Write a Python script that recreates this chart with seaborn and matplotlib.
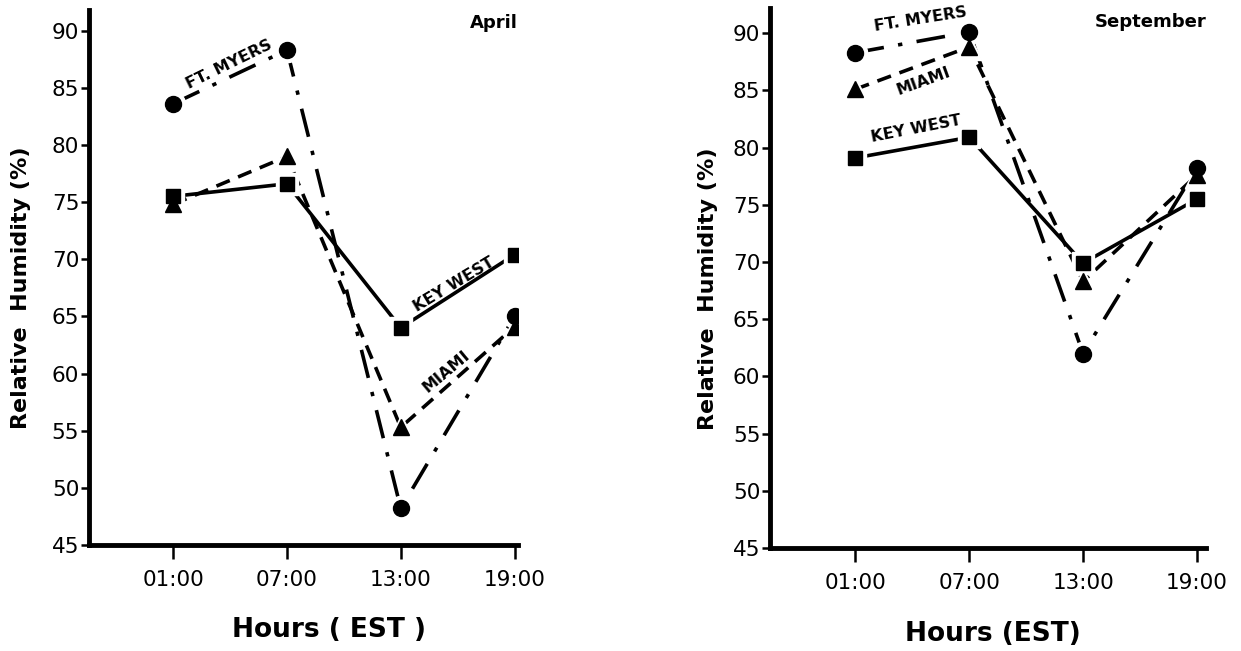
import pandas as pd
import seaborn as sns
import matplotlib.pyplot as plt

# hours of observation and relative humidity readings (%)
hours = ['01:00', '07:00', '13:00', '19:00']

april_ft_myers = [83.6, 88.3, 48.2, 65.0]
april_miami = [74.8, 79.0, 55.3, 64.1]
april_key_west = [75.5, 76.6, 64.0, 70.4]

sept_ft_myers = [88.3, 90.1, 62.0, 78.2]
sept_miami = [85.1, 88.8, 68.3, 77.6]
sept_key_west = [79.1, 80.9, 69.9, 75.5]

cities = ['FT. MYERS', 'MIAMI', 'KEY WEST']

sns.set_style('ticks')
plt.rcParams['font.family'] = ['DejaVu Sans']
plt.rcParams['text.color'] = 'black'
plt.rcParams['axes.labelcolor'] = 'black'

styles = {
    'FT. MYERS': dict(marker='o', ms=11.5, dashes=(8, 4, 1.2, 4)),
    'MIAMI': dict(marker='^', ms=12, dashes=(4, 2.5)),
    'KEY WEST': dict(marker='s', ms=10.5, dashes=()),
}


def make_frame(ft, mi, kw):
    rows = []
    for city, vals in zip(cities, [ft, mi, kw]):
        for i, (h, v) in enumerate(zip(hours, vals)):
            rows.append({'city': city, 'hour': h, 'pos': i, 'rh': v})
    return pd.DataFrame(rows)


def draw_panel(ax, df, title, labels, xlabel):
    # lines first
    for city in cities:
        sub = df[df.city == city]
        st = styles[city]
        sns.lineplot(data=sub, x='pos', y='rh', ax=ax, color='black',
                     lw=2.6, legend=False)
        l = ax.get_lines()[-1]
        if st['dashes']:
            l.set_dashes(st['dashes'])
    # white halo so lines stop short of the symbols
    for city in cities:
        sub = df[df.city == city]
        st = styles[city]
        ax.plot(sub.pos, sub.rh, ls='none', marker=st['marker'], ms=st['ms'] + 6,
                color='white', zorder=3)
    for city in cities:
        sub = df[df.city == city]
        st = styles[city]
        ax.plot(sub.pos, sub.rh, ls='none', marker=st['marker'], ms=st['ms'],
                color='black', mec='black', zorder=4)

    for txt, x, y, rot in labels:
        ax.text(x, y, txt, rotation=rot, ha='center', va='center',
                fontsize=11.5, fontweight='bold', rotation_mode='anchor')

    ax.text(1.0, 0.975, title, transform=ax.transAxes, ha='right', va='center',
            fontsize=13, fontweight='bold')

    ax.set_ylim(45, 91.8)
    ax.set_yticks(range(45, 91, 5))
    ax.set_xticks(range(4))
    ax.set_xticklabels(hours)
    ax.tick_params(axis='both', labelsize=15.5, width=1.8, colors='black')
    ax.tick_params(axis='y', length=6, pad=1)
    ax.tick_params(axis='x', length=10, pad=8)
    for s in ['left', 'bottom']:
        ax.spines[s].set_linewidth(3.5)
        ax.spines[s].set_color('black')
    sns.despine(ax=ax)
    ax.set_ylabel('Relative  Humidity (%)', fontsize=16, fontweight='bold')
    ax.set_xlabel(xlabel, fontsize=19, fontweight='bold')


fig = plt.figure(figsize=(12.41, 6.51), dpi=100)
ax1 = fig.add_axes([0.0717, 0.1628, 0.3457, 0.8218])
ax2 = fig.add_axes([0.6205, 0.1582, 0.3513, 0.8295])

draw_panel(ax1, make_frame(april_ft_myers, april_miami, april_key_west), 'April',
           [('FT. MYERS', 0.49, 87.0, 26), ('KEY WEST', 2.47, 67.8, 31),
            ('MIAMI', 2.4, 60.2, 40)],
           'Hours ( EST )')
ax1.set_xlim(-0.74, 3.03)

draw_panel(ax2, make_frame(sept_ft_myers, sept_miami, sept_key_west), 'September',
           [('FT. MYERS', 0.57, 91.2, 9), ('MIAMI', 0.6, 85.8, 20),
            ('KEY WEST', 0.53, 81.6, 11)],
           'Hours (EST)')
ax2.set_xlim(-0.75, 3.08)
ax2.set_ylim(45, 92.2)

ax1.yaxis.set_label_coords(-0.135, 0.48)
ax2.yaxis.set_label_coords(-0.12, 0.48)
ax1.xaxis.set_label_coords(0.56, -0.135)
ax2.xaxis.set_label_coords(0.51, -0.135)

fig.savefig('out.png', dpi=100)
